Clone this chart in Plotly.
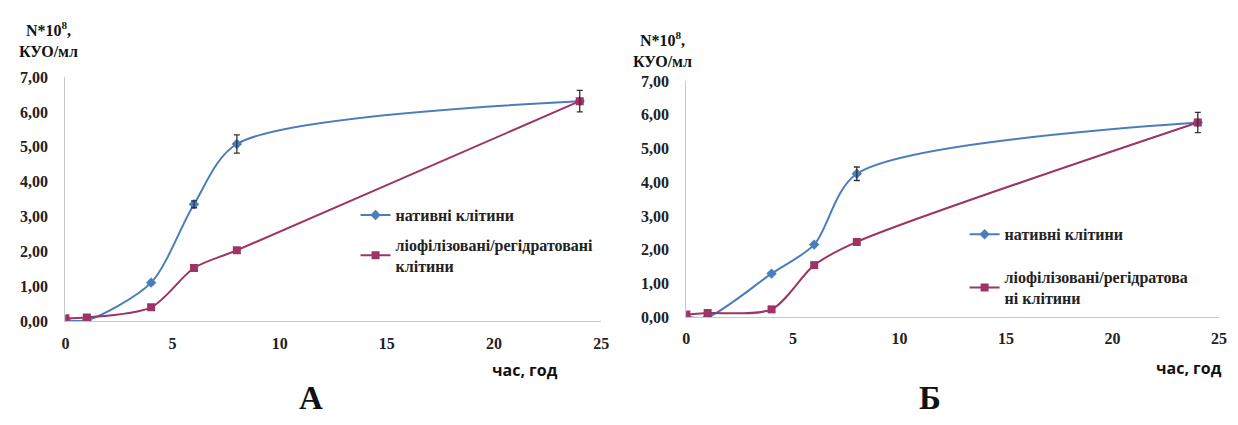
import plotly.graph_objects as go

# ---- data ----
hours = [0, 1, 4, 6, 8, 24]
native_A = [0.03, 0.02, 1.10, 3.35, 5.08, 6.31]
lyo_A = [0.08, 0.10, 0.39, 1.52, 2.03, 6.31]
native_B = [0.02, 0.00, 1.29, 2.15, 4.25, 5.77]
lyo_B = [0.08, 0.12, 0.23, 1.54, 2.23, 5.77]
err_A_x = [6, 8, 24]
err_A_y = [3.35, 5.08, 6.31]
err_A = [0.10, 0.26, 0.31]
err_B_x = [8, 24]
err_B_y = [4.25, 5.77]
err_B = [0.20, 0.30]
y_ticks = [0, 1, 2, 3, 4, 5, 6, 7]
y_tick_text = ["0,00", "1,00", "2,00", "3,00", "4,00", "5,00", "6,00", "7,00"]
x_ticks = [0, 5, 10, 15, 20, 25]
name_native = "нативні клітини"
name_lyo_A = "ліофілізовані/регідратовані<br>клітини"
name_lyo_B = "ліофілізовані/регідратова<br>ні клітини"

BLUE = "#4A7EBB"
RED = "#9E3464"
SERIF = "Times New Roman, Liberation Serif, DejaVu Serif, serif"
W, H = 1238, 425

def px_x(p):
    return p / W

def px_y(p):
    return 1 - p / H

fig = go.Figure()

def add_series(x, y, name, color, symbol, xa, ya, legend, group):
    fig.add_trace(go.Scatter(
        x=x, y=y, name=name, mode="lines+markers",
        line=dict(color=color, width=2, shape="spline", smoothing=0.8),
        marker=dict(color=color, symbol=symbol, size=8),
        xaxis=xa, yaxis=ya, legend=legend, legendgroup=group,
    ))

add_series(hours, native_A, name_native, BLUE, "diamond", "x", "y", "legend", "a1")
add_series(hours, lyo_A, name_lyo_A, RED, "square", "x", "y", "legend", "a2")
add_series(hours, native_B, name_native, BLUE, "diamond", "x2", "y2", "legend2", "b1")
add_series(hours, lyo_B, name_lyo_B, RED, "square", "x2", "y2", "legend2", "b2")

for ex, ey, ee, xa, ya in [(err_A_x, err_A_y, err_A, "x", "y"), (err_B_x, err_B_y, err_B, "x2", "y2")]:
    fig.add_trace(go.Scatter(
        x=ex, y=ey, mode="markers", marker=dict(size=1, color="rgba(0,0,0,0)"),
        error_y=dict(type="data", array=ee, color="#333333", thickness=1.3, width=3),
        xaxis=xa, yaxis=ya, showlegend=False, hoverinfo="skip",
    ))

tickfont = dict(family=SERIF, size=16, color="#222222", weight="bold")
axis_common = dict(showgrid=False, zeroline=False, showline=True, linecolor="#C8C8C8",
                   linewidth=1.2, ticks="", tickfont=tickfont)
legfont = dict(family=SERIF, size=16, color="#222222", weight="bold")

fig.update_layout(
    width=W, height=H, margin=dict(l=0, r=0, t=0, b=0),
    paper_bgcolor="white", plot_bgcolor="white",
    xaxis=dict(domain=[px_x(62), px_x(603)], range=[0, 25], tickvals=x_ticks, anchor="y",
               ticklabelstandoff=8, **axis_common),
    yaxis=dict(domain=[px_y(326), px_y(72)], range=[0, 7], tickvals=y_ticks, ticktext=y_tick_text,
               anchor="x", ticklabelstandoff=13, **axis_common),
    xaxis2=dict(domain=[px_x(689), px_x(1227)], range=[0, 25], tickvals=x_ticks, anchor="y2",
                ticklabelstandoff=7, **axis_common),
    yaxis2=dict(domain=[px_y(322), px_y(76)], range=[0, 7], tickvals=y_ticks, ticktext=y_tick_text,
                anchor="x2", ticklabelstandoff=13, **axis_common),
    legend=dict(x=px_x(355), y=px_y(198), xanchor="left", yanchor="top",
                font=legfont, bgcolor="rgba(0,0,0,0)",
                traceorder="grouped", tracegroupgap=6, itemwidth=30),
    legend2=dict(x=px_x(970), y=px_y(218), xanchor="left", yanchor="top",
                 font=legfont, bgcolor="rgba(0,0,0,0)",
                 traceorder="grouped", tracegroupgap=19, itemwidth=30),
    showlegend=True,
)

def ann(text, x, y, size, family=SERIF, bold=True):
    fig.add_annotation(text=text, x=px_x(x), y=px_y(y), xref="paper", yref="paper",
                       showarrow=False, xanchor="center", yanchor="middle",
                       font=dict(family=family, size=size, color="#111111",
                                 weight="bold" if bold else "normal"))

ann("N*10<sup>8</sup>,<br>КУО/мл", 45, 33, 16)
ann("N*10<sup>8</sup>,<br>КУО/мл", 665, 43, 16)
ann("час, год", 526, 377, 16, family="Open Sans")
ann("час, год", 1197, 375, 16, family="Open Sans")
ann("А", 310, 406, 33)
ann("Б", 935, 406, 33)

fig.write_html("out.html")
